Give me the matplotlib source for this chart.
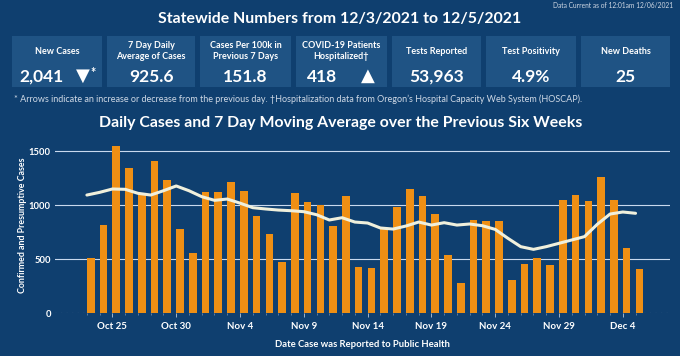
import matplotlib.pyplot as plt
import numpy as np
from matplotlib.patches import Rectangle

# daily cases Oct 23 .. Dec 5
cases = [509, 817, 1549, 1348, 1101, 1413, 1234, 777, 561,
         1120, 1120, 1216, 1132, 904, 734, 472, 1111, 1034, 1000, 805,
         1083, 429, 416, 780, 987, 1154, 1089, 916, 537, 284,
         864, 858, 858, 308, 460, 515, 447, 1049, 1095, 1040,
         1259, 1046, 602, 407]
avg7 = [1095, 1120, 1151, 1148, 1111, 1095, 1135, 1179, 1135,
        1080, 1046, 1058, 1020, 978, 966, 956, 950, 941, 913, 864,
        885, 845, 836, 790, 780, 808, 845, 817, 839, 817,
        827, 811, 777, 694, 617, 592, 617, 648, 679, 710,
        824, 919, 938, 926]
tick_pos = [2, 7, 12, 17, 22, 27, 32, 37, 42]
tick_labels = ["Oct 25", "Oct 30", "Nov 4", "Nov 9", "Nov 14", "Nov 19",
               "Nov 24", "Nov 29", "Dec 4"]

stat_labels = ["New Cases", "7 Day Daily\nAverage of Cases", "Cases Per 100k in\nPrevious 7 Days",
               "COVID-19 Patients\nHospitalized\u2020", "Tests Reported", "Test Positivity",
               "New Deaths"]
stat_values = ["2,041", "925.6", "151.8", "418", "53,963", "4.9%", "25"]

BG = "#0f3f6f"
BOX = "#1f5384"
ORANGE = "#ee8f14"
LINE = "#f0f0dc"
FONT = ["Lato", "DejaVu Sans"]
plt.rcParams['font.family'] = FONT

W, H = 680, 356
fig = plt.figure(figsize=(6.8, 3.56), dpi=100, facecolor=BG)

def fx(px):
    return px / W

def fy(py):
    return 1 - py / H

# header
fig.text(fx(673), fy(5), "Data Current as of 12:01am 12/06/2021", color="#d0d8e4",
         fontsize=4.8, ha="right", va="center")
fig.text(fx(340), fy(19), "Statewide Numbers from 12/3/2021 to 12/5/2021", color="white",
         fontsize=11.4, fontweight="bold", ha="center", va="center")

boxes = [(12, 102), (107, 195), (200, 291), (296, 387), (392, 481), (486, 576), (581, 670)]
for (x0, x1), lab, val in zip(boxes, stat_labels, stat_values):
    fig.add_artist(Rectangle((fx(x0), fy(87)), (x1 - x0) / W, 51 / H,
                             transform=fig.transFigure, facecolor=BOX, edgecolor="none"))
    cx = (x0 + x1) / 2
    fig.text(fx(cx), fy(51), lab, color="white", fontsize=6.5, fontweight="bold",
             ha="center", va="center", linespacing=1.2)
    if lab == "New Cases":
        fig.text(fx(19), fy(77), val, color="white", fontsize=12.5, fontweight="bold",
                 ha="left", va="center")
        fig.text(fx(83), fy(76), "\u25BC", color="white", fontsize=13, ha="center",
                 va="center", family="DejaVu Sans")
        fig.text(fx(93), fy(73), "*", color="white", fontsize=9, fontweight="bold",
                 ha="center", va="center")
    elif lab.startswith("COVID"):
        fig.text(fx(307), fy(77), val, color="white", fontsize=12.5, fontweight="bold",
                 ha="left", va="center")
        fig.text(fx(368), fy(76), "\u25B2", color="white", fontsize=13, ha="center",
                 va="center", family="DejaVu Sans")
    else:
        fig.text(fx(cx), fy(77), val, color="white", fontsize=12.5, fontweight="bold",
                 ha="center", va="center")

fig.text(fx(14), fy(99), "* Arrows indicate an increase or decrease from the previous day. "
         "\u2020Hospitalization data from Oregon\u2019s Hospital Capacity Web System (HOSCAP).",
         color="#cfd9e6", fontsize=6.5, ha="left", va="center")
fig.text(fx(341), fy(123), "Daily Cases and 7 Day Moving Average over the Previous Six Weeks",
         color="white", fontsize=11.4, fontweight="bold", ha="center", va="center")

# chart
ax = fig.add_axes([fx(55), fy(313.3), 615 / W, 172.8 / H])
ax.set_facecolor(BG)
x = np.arange(len(cases))
ax.bar(x, cases, width=0.6, align="edge", color=ORANGE, zorder=2)
ax.plot(x, avg7, color=LINE, lw=2.2, zorder=3, solid_capstyle="round")
ax.set_xlim(-2.5, 45.7)
ax.set_ylim(0, 1600)
ax.set_yticks([0, 500, 1000, 1500])
ax.set_yticklabels(["0", "500", "1000", "1500"])
for v in [500, 1000, 1500]:
    ax.axhline(v, color="#c9d9ee", lw=0.8, zorder=1)
ax.axhline(0, color="#8fa6c0", lw=0.8, ls=(0, (1, 4)), zorder=1)
ax.set_xticks(tick_pos)
ax.set_xticklabels(tick_labels)
ax.set_xticks(x, minor=True)
ax.tick_params(axis="x", which="major", colors="#b9c8da", length=3, width=0.6,
               labelcolor="white", labelsize=7, pad=3)
ax.tick_params(axis="x", which="minor", colors="#7f98b6", length=1.5, width=0.5)
ax.tick_params(axis="y", length=0, labelcolor="white", labelsize=6.8, pad=3)
for t in ax.get_xticklabels() + ax.get_yticklabels():
    t.set_fontweight("bold")
for s in ax.spines.values():
    s.set_visible(False)
ax.set_xlabel("Date Case was Reported to Public Health", color="white", fontsize=6.8,
              fontweight="bold", labelpad=7)
fig.text(fx(23), fy(225), "Confirmed and Presumptive Cases", color="white", fontsize=6.4,
         fontweight="bold", rotation=90, ha="center", va="center")

fig.savefig("out.png", dpi=100, facecolor=BG)
